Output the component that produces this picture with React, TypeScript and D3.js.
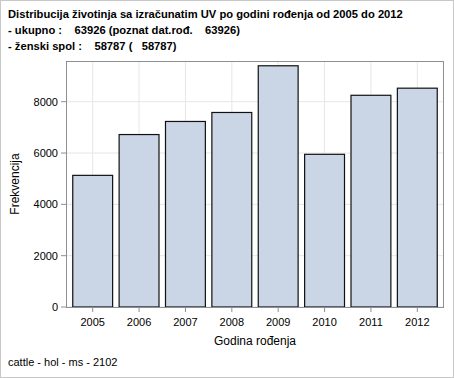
import React from "react";
import * as d3 from "d3";

const years = ["2005", "2006", "2007", "2008", "2009", "2010", "2011", "2012"];
const counts = [5130, 6720, 7230, 7580, 9400, 5950, 8250, 8527];
const yTicks = [0, 2000, 4000, 6000, 8000];
const titleLines = [
  "Distribucija životinja sa izračunatim UV po godini rođenja od 2005 do 2012",
  "- ukupno :    63926 (poznat dat.rođ.    63926)",
  "- ženski spol :    58787 (   58787)",
];
const xLabel = "Godina rođenja";
const yLabel = "Frekvencija";
const footer = "cattle - hol - ms - 2102";

const W = 454;
const H = 378;
const left = 66, right = 444, top = 61, bottom = 307;

export default function App() {
  const x = d3.scaleBand<string>().domain(years).range([left + 3.5, right - 3.5]).paddingInner(0.14).paddingOuter(0.07);
  const y = d3.scaleLinear().domain([0, 8000]).range([bottom, 101.7]);
  const font = "'Liberation Sans', Arial, sans-serif";
  return (
    <svg width={W} height={H} style={{ position: "absolute", left: 0, top: 0 }} fontFamily={font}>
      <rect x={0.5} y={0.5} width={W - 1} height={H - 1} fill="#fff" stroke="#c8c8c8" />
      {titleLines.map((t, i) => (
        <text key={i} x={8} y={[18, 34, 50][i]} fontSize={11.2} fontWeight="bold" fill="#000" style={{ whiteSpace: "pre" }}>
          {t}
        </text>
      ))}
      {yTicks.map((v) => (
        <line key={"gy" + v} x1={left} x2={right} y1={y(v)} y2={y(v)} stroke="#e6e6e6" />
      ))}
      {years.map((yr) => (
        <line key={"gx" + yr} x1={x(yr)! + x.bandwidth() / 2} x2={x(yr)! + x.bandwidth() / 2} y1={top} y2={bottom} stroke="#e6e6e6" />
      ))}
      {years.map((yr, i) => (
        <rect
          key={yr}
          x={x(yr)!}
          y={y(counts[i])}
          width={x.bandwidth()}
          height={bottom - y(counts[i])}
          fill="#CAD5E5"
          stroke="#111"
          strokeWidth={1.2}
        />
      ))}
      <rect x={left + 0.5} y={top + 0.5} width={right - left - 1} height={bottom - top} fill="none" stroke="#8c9096" />
      {yTicks.map((v) => (
        <g key={"ty" + v}>
          <line x1={left - 5} x2={left} y1={y(v)} y2={y(v)} stroke="#8c9096" />
          <text x={left - 8} y={y(v) + 4} fontSize={11} textAnchor="end" fill="#000">
            {v}
          </text>
        </g>
      ))}
      {years.map((yr) => (
        <g key={"tx" + yr}>
          <line x1={x(yr)! + x.bandwidth() / 2} x2={x(yr)! + x.bandwidth() / 2} y1={bottom} y2={bottom + 5} stroke="#8c9096" />
          <text x={x(yr)! + x.bandwidth() / 2} y={bottom + 19} fontSize={11} textAnchor="middle" fill="#000">
            {yr}
          </text>
        </g>
      ))}
      <text x={(left + right) / 2} y={345} fontSize={12} textAnchor="middle" fill="#000">
        {xLabel}
      </text>
      <text transform={`translate(19, ${(top + bottom) / 2}) rotate(-90)`} fontSize={12} textAnchor="middle" fill="#000">
        {yLabel}
      </text>
      <text x={8} y={366} fontSize={11} fill="#000">
        {footer}
      </text>
    </svg>
  );
}
